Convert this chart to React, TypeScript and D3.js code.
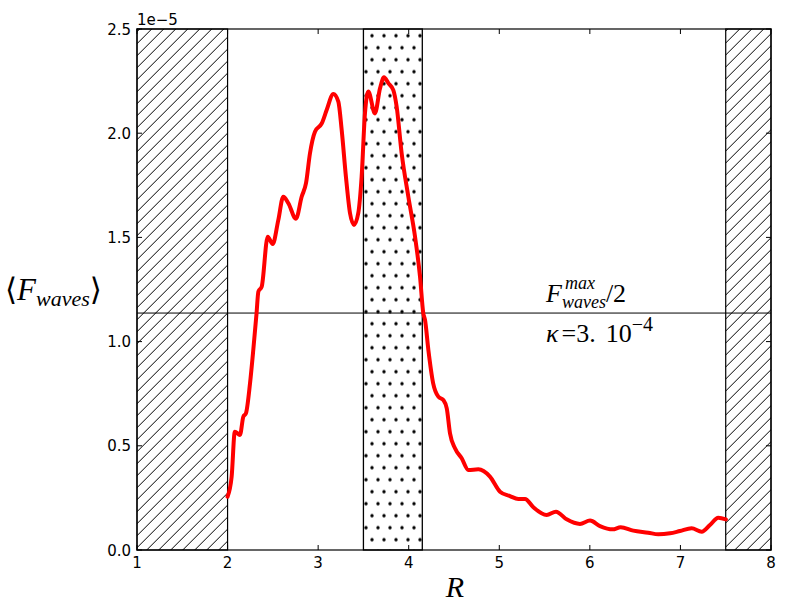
import React from "react";
import * as d3 from "d3";

const R_VALUES = [2.0, 2.045, 2.08, 2.137, 2.174, 2.203, 2.248, 2.284, 2.32, 2.34, 2.377, 2.443, 2.498, 2.56, 2.615, 2.671, 2.755, 2.818, 2.866, 2.91, 2.965, 3.04, 3.094, 3.168, 3.223, 3.26, 3.307, 3.352, 3.396, 3.443, 3.48, 3.517, 3.554, 3.627, 3.683, 3.727, 3.775, 3.83, 3.867, 3.922, 3.996, 4.07, 4.125, 4.161, 4.18, 4.217, 4.27, 4.327, 4.382, 4.42, 4.456, 4.511, 4.585, 4.658, 4.769, 4.897, 5.008, 5.118, 5.21, 5.284, 5.376, 5.523, 5.626, 5.744, 5.891, 6.002, 6.112, 6.252, 6.34, 6.48, 6.645, 6.756, 6.885, 6.995, 7.124, 7.235, 7.326, 7.418, 7.502];
const F_VALUES = [0.256, 0.352, 0.568, 0.552, 0.64, 0.656, 0.8, 0.96, 1.136, 1.24, 1.264, 1.503, 1.468, 1.583, 1.695, 1.664, 1.59, 1.695, 1.76, 1.904, 2.007, 2.047, 2.111, 2.188, 2.151, 2.015, 1.79, 1.616, 1.56, 1.616, 1.79, 2.095, 2.2, 2.095, 2.215, 2.268, 2.24, 2.207, 2.127, 1.904, 1.695, 1.503, 1.311, 1.136, 1.104, 0.96, 0.8, 0.736, 0.72, 0.68, 0.56, 0.488, 0.44, 0.384, 0.387, 0.352, 0.28, 0.259, 0.245, 0.245, 0.205, 0.168, 0.184, 0.147, 0.125, 0.141, 0.115, 0.099, 0.109, 0.093, 0.083, 0.075, 0.08, 0.091, 0.104, 0.088, 0.12, 0.155, 0.147];

const X_TICKS = [1, 2, 3, 4, 5, 6, 7, 8];
const Y_TICKS = [0, 0.5, 1.0, 1.5, 2.0, 2.5];
const HATCH_REGIONS = [[1, 2], [7.5, 8]];
const DOT_REGION = [3.5, 4.15];
const HALF_MAX = 1.137;

const W = 812, H = 612;
const L = 137, Rt = 771, T = 29, B = 550;

export default function App() {
  const x = d3.scaleLinear().domain([1, 8]).range([L, Rt]);
  const y = d3.scaleLinear().domain([0, 2.5]).range([B, T]);
  const data = R_VALUES.map((r, i) => [r, F_VALUES[i]] as [number, number]);
  const line = d3.line<[number, number]>().x(d => x(d[0])).y(d => y(d[1])).curve(d3.curveMonotoneX);
  const tk = 5;
  const mathFont = "'Liberation Serif', 'DejaVu Serif', serif";
  const sans = "'DejaVu Sans', sans-serif";
  return (
    <div style={{ position: "fixed", left: 0, top: 0 }}>
      <svg width={W} height={H} style={{ display: "block", background: "#fff" }}>
        <defs>
          <pattern id="hatch" patternUnits="userSpaceOnUse" width={12} height={12} x={0.7} y={0}>
            <path d="M0,12 L12,0 M-3,3 L3,-3 M9,15 L15,9" stroke="#000" strokeWidth={1} />
          </pattern>
          <pattern id="dots" patternUnits="userSpaceOnUse" width={12} height={24} x={0} y={539.7 - 12}>
            <circle cx={6} cy={0} r={1.7} fill="#000" />
            <circle cx={0} cy={12} r={1.7} fill="#000" />
            <circle cx={12} cy={12} r={1.7} fill="#000" />
            <circle cx={6} cy={24} r={1.7} fill="#000" />
          </pattern>
          <clipPath id="plot"><rect x={L} y={T} width={Rt - L} height={B - T} /></clipPath>
        </defs>
        <rect x={L} y={T} width={Rt - L} height={B - T} fill="#fff" />
        {HATCH_REGIONS.map(([a, b], i) => (
          <rect key={i} x={x(a)} y={T} width={x(b) - x(a)} height={B - T} fill="url(#hatch)" stroke="#000" strokeWidth={1.2} />
        ))}
        <rect x={x(DOT_REGION[0])} y={T} width={x(DOT_REGION[1]) - x(DOT_REGION[0])} height={B - T} fill="url(#dots)" stroke="#000" strokeWidth={1.3} />
        <line x1={L} x2={Rt} y1={y(HALF_MAX)} y2={y(HALF_MAX)} stroke="#000" strokeWidth={1} />
        <g clipPath="url(#plot)">
          <path d={line(data) || ""} fill="none" stroke="#ff0000" strokeWidth={4} strokeLinejoin="round" strokeLinecap="round" />
        </g>
        <rect x={L} y={T} width={Rt - L} height={B - T} fill="none" stroke="#000" strokeWidth={1.2} />
        {X_TICKS.map(t => (
          <g key={"x" + t}>
            <line x1={x(t)} x2={x(t)} y1={B} y2={B - tk} stroke="#000" />
            <line x1={x(t)} x2={x(t)} y1={T} y2={T + tk} stroke="#000" />
            <text x={x(t)} y={568} textAnchor="middle" fontFamily={sans} fontSize={15}>{t}</text>
          </g>
        ))}
        {Y_TICKS.map(t => (
          <g key={"y" + t}>
            <line x1={L} x2={L + tk} y1={y(t)} y2={y(t)} stroke="#000" />
            <line x1={Rt} x2={Rt - tk} y1={y(t)} y2={y(t)} stroke="#000" />
            <text x={131} y={y(t) + 5.5} textAnchor="end" fontFamily={sans} fontSize={15}>{d3.format(".1f")(t)}</text>
          </g>
        ))}
        <text x={137} y={25} fontFamily={sans} fontSize={15}>1e−5</text>
        <text x={455} y={597} textAnchor="middle" fontFamily={mathFont} fontStyle="italic" fontSize={30}>R</text>
        <text x={5} y={300} fontFamily={mathFont} fontSize={31}>
          <tspan fontStyle="normal">⟨</tspan>
          <tspan fontStyle="italic">F</tspan>
          <tspan fontStyle="italic" fontSize={22} dy={6}>waves</tspan>
          <tspan fontStyle="normal" dy={-6}>⟩</tspan>
        </text>
        <text x={546} y={302} fontFamily={mathFont} fontSize={26}>
          <tspan fontStyle="italic">F</tspan>
          <tspan fontStyle="italic" fontSize={18} dy={6}>waves</tspan>
          <tspan fontStyle="normal" dy={-6}>/2</tspan>
        </text>
        <text x={565} y={289} fontFamily={mathFont} fontStyle="italic" fontSize={18}>max</text>
        <text x={546} y={342} fontFamily={mathFont} fontSize={26}>
          <tspan fontStyle="italic">κ</tspan>
          <tspan dx={3}>=3.</tspan>
          <tspan dx={10}>10</tspan>
          <tspan fontSize={20} dy={-11}>−4</tspan>
        </text>
      </svg>
    </div>
  );
}
